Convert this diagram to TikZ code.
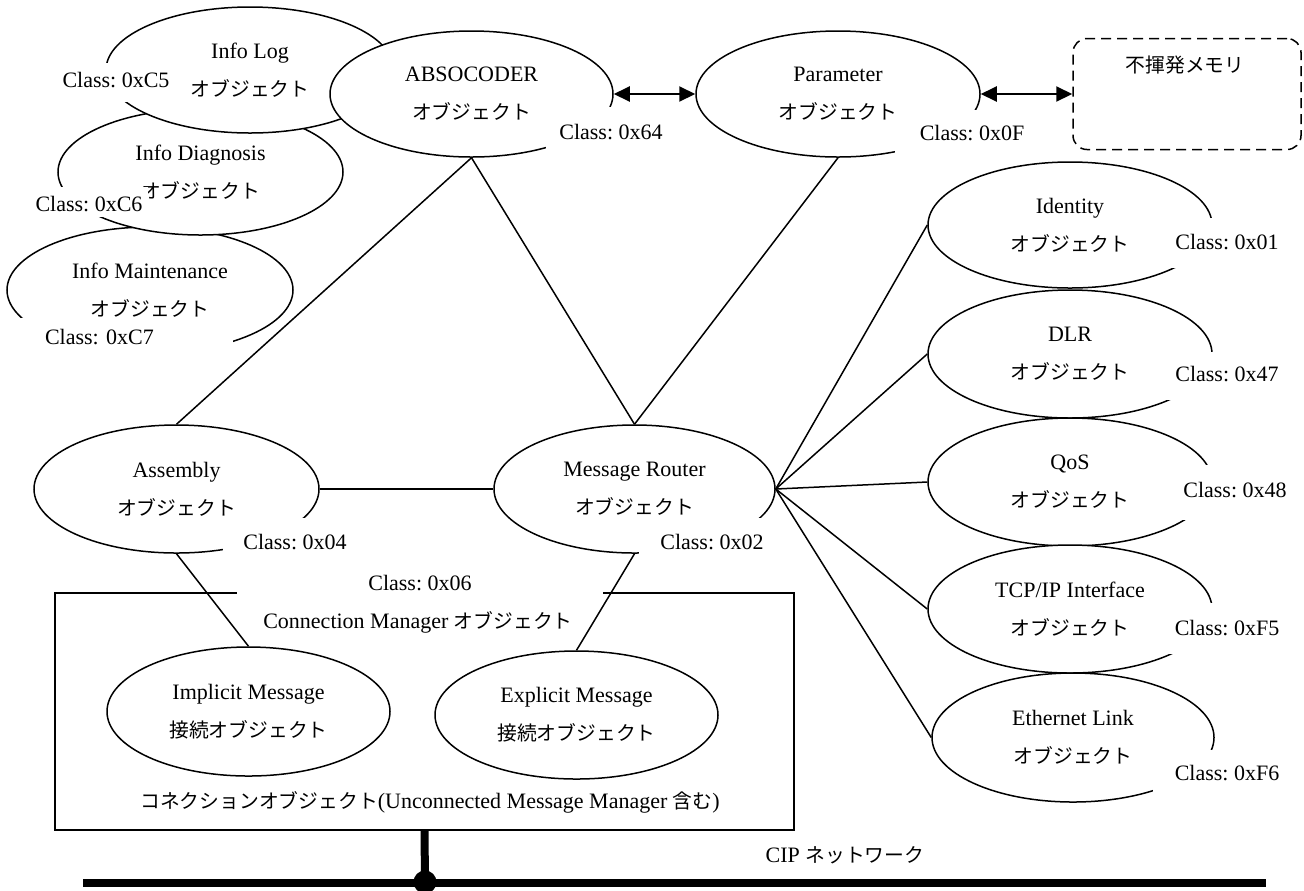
\documentclass[tikz,border=0pt]{standalone}
\usepackage{fontspec}
\setmainfont{Liberation Serif}
\newfontfamily\jp[Scale=0.9]{Noto Sans CJK JP}
\usetikzlibrary{shapes.geometric,arrows.meta}
\pgfdeclarelayer{background}
\pgfsetlayers{background,main}
\begin{document}
\begin{tikzpicture}[x=0.5pt,y=-0.5pt,
  obj/.style n args={2}{ellipse, draw, fill=white, line width=0.75pt, inner sep=0pt,
    align=center, font=\fontsize{11}{19}\selectfont, minimum width=#1pt, minimum height=#2pt},
  conn/.style={line width=0.75pt},
  dbl/.style={{Triangle[length=8pt,width=7.5pt]}-{Triangle[length=8pt,width=7.5pt]}, line width=1pt},
  cls/.style n args={3}{fill=white, anchor=base, inner ysep=0pt, inner xsep=#3pt,
    text height=#1pt, text depth=#2pt, font=\fontsize{11}{13}\selectfont\frenchspacing},
  txt/.style={font=\fontsize{11}{13}\selectfont, inner sep=0pt},
  bus/.style={line width=4pt}
]
\useasboundingbox (0,0) rectangle (1304,890);

% frames
\node[draw, line width=0.75pt, minimum width=369.5pt, minimum height=118.5pt, inner sep=0pt] (cmbox) at (424.5,711.5) {};
\node[draw, line width=0.75pt, dash pattern=on 5pt off 3pt, rounded corners=7pt,
      minimum width=114pt, minimum height=55.5pt, inner sep=0pt] (mem) at (1187,94) {};

% objects (layered: later ones cover earlier ones)
\node[obj={143}{63}] (infom) at (150,290) {Info Maintenance\\{\jp オブジェクト}};
\node[obj={142.5}{63}] (infod) at (200.5,172) {Info Diagnosis\\{\jp オブジェクト}};
\node[obj={144}{63}] (infol) at (250,70) {Info Log\\{\jp オブジェクト}};
\node[obj={141.5}{63}] (abso) at (471.5,94) {ABSOCODER\\{\jp オブジェクト}};
\node[obj={142}{63}] (param) at (838,94) {Parameter\\{\jp オブジェクト}};
\node[obj={142}{63}] (ident) at (1070,225) {Identity\\{\jp オブジェクト}};
\node[obj={142}{64}] (dlr) at (1070,354) {DLR\\{\jp オブジェクト}};
\node[obj={142}{64}] (qos) at (1070,482) {QoS\\{\jp オブジェクト}};
\node[obj={142}{64}] (tcp) at (1070,609) {TCP/IP Interface\\{\jp オブジェクト}};
\node[obj={141}{64.5}] (eth) at (1073,737.5) {Ethernet Link\\{\jp オブジェクト}};
\node[obj={140.5}{64}] (mr) at (634.5,489) {Message Router\\{\jp オブジェクト}};
\node[obj={142.5}{64}] (asm) at (176.5,489) {Assembly\\{\jp オブジェクト}};
\node[obj={141.5}{64.5}] (impl) at (248.5,711.5) {Implicit Message\\{\jp 接続オブジェクト}};
\node[obj={141.5}{64}] (expl) at (576.5,715) {Explicit Message\\{\jp 接続オブジェクト}};

% connectors (behind the objects)
\begin{pgfonlayer}{background}
\draw[conn] (abso.south) -- (asm.north);
\draw[conn] (abso.south) -- (mr.north);
\draw[conn] (param.south) -- (mr.north);
\draw[conn] (asm.east) -- (mr.west);
\draw[conn] (mr.east) -- (ident.west);
\draw[conn] (mr.east) -- (dlr.west);
\draw[conn] (mr.east) -- (qos.west);
\draw[conn] (mr.east) -- (tcp.west);
\draw[conn] (mr.east) -- (eth.west);
\draw[conn] (asm.south) -- (impl.north);
\draw[conn] (mr.south) -- (expl.north);
\end{pgfonlayer}

\draw[dbl] (abso.east) -- (param.west);
\draw[dbl] (param.east) -- (mem.west);

% texts
\node[txt] (memt) at (1185,65) {\jp 不揮発メモリ};
\node[txt] (cmt) at (418,622) {Connection Manager {\jp オブジェクト}};
\node[txt] (cot) at (430,802) {{\jp コネクションオブジェクト}(Unconnected Message Manager {\jp 含む})};
\node[txt] (cip) at (845,855) {CIP {\jp ネットワーク}};

% class labels
\node[cls={12.35}{7.15}{2}] (c5) at (116,87.7) {Class: 0xC5};
\node[cls={12.35}{2.65}{3}] (c6) at (89,211.7) {Class: 0xC6};
\node[cls={13.35}{8.15}{15}, text width=79pt, align=left] (c7) at (124,344.7) {Class: 0xC7};
\node[cls={16.35}{9.15}{6.5}] (c64) at (611,139.7) {Class: 0x64};
\node[cls={15.35}{9.15}{12.5}] (c0f) at (972,140.7) {Class: 0x0F};
\node[cls={15.85}{9.15}{5}] (c01) at (1227,249.7) {Class: 0x01};
\node[cls={14.85}{9.15}{8.5}] (c47) at (1227,381.7) {Class: 0x47};
\node[cls={16.35}{11.15}{3}] (c48) at (1235,497.7) {Class: 0x48};
\node[cls={16.35}{9.15}{4}] (cf5) at (1227,635.7) {Class: 0xF5};
\node[cls={15.35}{9.15}{11}] (cf6) at (1227,780.7) {Class: 0xF6};
\node[cls={15.85}{9.15}{10.5}] (c02) at (712,549.7) {Class: 0x02};
\node[cls={15.85}{9.15}{10}] (c04) at (295,549.7) {Class: 0x04};
\node[cls={13.85}{7.15}{65.5}] (c06) at (420,590.7) {Class: 0x06};

% network bus
\coordinate (busL) at (83,883);
\coordinate (busR) at (1266,883);
\node[circle, fill, minimum size=11.5pt, inner sep=0pt] (tap) at (425,882) {};
\draw[bus] (busL) -- (busR);
\draw[bus] (cmbox.south) -- (tap.center);
\end{tikzpicture}
\end{document}
